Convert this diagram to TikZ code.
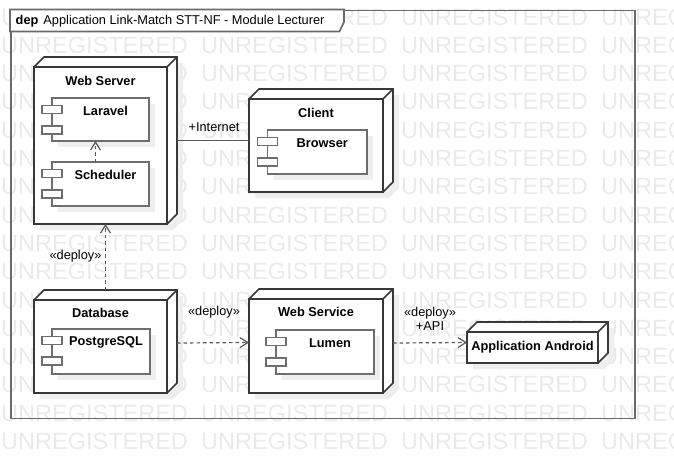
\documentclass[tikz,border=0pt]{standalone}
\usepackage{fontspec}
\setmainfont{Liberation Sans}
\usetikzlibrary{arrows.meta,calc}
\definecolor{nodec}{HTML}{383838}
\definecolor{compc}{HTML}{6E6E6E}
\definecolor{framec}{HTML}{6A6A6A}
\definecolor{linec}{HTML}{585858}
\definecolor{wmc}{HTML}{EAEAEA}
\definecolor{shc}{HTML}{EEEEEE}
\tikzset{
  nodeline/.style={draw=nodec, line width=1.6pt, line join=miter},
  nodeface/.style={nodeline, fill=white, rectangle, inner sep=0pt, outer sep=0pt, anchor=north west},
  compface/.style={draw=compc, line width=1.3pt, fill=white, rectangle, inner sep=0pt, outer sep=0pt, anchor=north west},
  compicon/.style={draw=compc, line width=1.3pt, fill=white},
  shadowfill/.style={fill=shc},
  titletext/.style={font=\fontsize{12.8}{15}\selectfont\bfseries, inner sep=0pt},
  labeltext/.style={font=\fontsize{12.8}{15}\selectfont, inner sep=0pt},
  wmtext/.style={font=\fontsize{23.5}{24}\selectfont, text=wmc, inner sep=0pt, anchor=west},
  framebox/.style={draw=framec, line width=1.7pt, rectangle, inner sep=0pt, anchor=north west},
  conn/.style={draw=linec, line width=1.2pt},
  depline/.style={conn, dash pattern=on 3.5pt off 3pt, -{Straight Barb[length=8pt,width=10pt,line width=1.2pt]}}
}
% name, x, y, w, h, title, title yshift
\newcommand\depnode[7]{%
  \fill[shadowfill] (#2+6,#3+6) -- ++(10,-10) -- ++(#4,0) -- ++(0,#5) -- ++(-10,10) -- ++(-#4,0) -- cycle;
  \draw[nodeline, fill=white] (#2,#3) -- ++(10,-10) -- ++(#4,0) -- ++(0,#5) -- ++(-10,10) -- ++(-#4,0) -- cycle;
  \node[nodeface, minimum width=#4, minimum height=#5] (#1) at (#2,#3) {};
  \draw[nodeline] (#1.north east) -- ++(10,-10);
  \node[titletext] (#1-t) at ([yshift=#7]#1.north) {#6};
}
% name, x, y, w, h, label
\newcommand\compbox[6]{%
  \fill[shadowfill] (#2+6,#3+6) rectangle ++(#4,#5);
  \node[compface, minimum width=#4, minimum height=#5] (#1) at (#2,#3) {};
  \draw[compicon] ([xshift=-10pt,yshift=-7.5pt]#1.north west) rectangle ++(20,8);
  \draw[compicon] ([xshift=-10pt,yshift=-28pt]#1.north west) rectangle ++(20,8);
  \node[titletext] (#1-t) at ([xshift=5pt,yshift=-13pt]#1.north) {#6};
}
\begin{document}
\begin{tikzpicture}[x=1pt,y=-1pt]
\useasboundingbox (0,0) rectangle (674,458);
\fill[white] (0,0) rectangle (674,458);
% watermark
\begin{scope}
  \clip (0,0) rectangle (674,458);
  \foreach \r in {0,...,15} {
    \foreach \c in {0,...,3} {
      \node[wmtext] at (1+200*\c, 17+28.3*\r) {UNREGISTERED};
    }
  }
\end{scope}
% frame
\node[framebox, minimum width=624, minimum height=408] (fr) at (10,9.5) {};
\draw[draw=framec, line width=1.7pt, fill=white] (fr.north west) -- ++(334,0) -- ++(0,12.5) -- ++(-4.5,9.5) -- ++(-329.5,0) -- cycle;
\node[labeltext, anchor=west] (frt) at (15.5,20.8) {\textbf{dep}\hspace{5pt}Application Link-Match STT-NF - Module Lecturer};
% nodes
\depnode{ws}{34}{67}{133}{157}{Web Server}{-13.5pt}
\depnode{cl}{249}{99}{134}{93}{Client}{-13.5pt}
\depnode{db}{34}{300}{133}{93}{Database}{-12.5pt}
\depnode{wsv}{249}{299}{134}{94}{Web Service}{-13pt}
\depnode{aa}{467}{332}{131}{31}{Application Android}{-15.5pt}
% components
\compbox{lar}{52}{98}{97}{43}{Laravel}
\compbox{sch}{52}{162}{97}{44}{Scheduler}
\compbox{brw}{267.5}{130}{99.5}{44}{Browser}
\compbox{pg}{52}{329}{98}{45}{PostgreSQL}
\compbox{lum}{276}{330}{98}{44}{Lumen}
% connectors
\draw[depline] ([xshift=-5pt]sch.north) -- ([xshift=-5pt]lar.south);
\draw[conn] ([xshift=10pt,yshift=5pt]ws.east) -- ([yshift=5pt]cl.west);
\node[labeltext] (lint) at (214,127) {+Internet};
\draw[depline] ([xshift=5pt,yshift=10pt]db.north) -- ([xshift=5pt]ws.south);
\node[labeltext] (ldep1) at (75.5,256.5) {«deploy»};
\draw[depline] ([xshift=10pt,yshift=3.5pt]db.east) -- ([yshift=3.5pt]wsv.west);
\node[labeltext] (ldep2) at (214,312) {«deploy»};
\draw[depline] ([xshift=10pt,yshift=3pt]wsv.east) -- ([yshift=5pt]aa.west);
\node[labeltext] (ldep3) at (430,313) {«deploy»};
\node[labeltext] (lapi) at (430,326.5) {+API};
\end{tikzpicture}
\end{document}
